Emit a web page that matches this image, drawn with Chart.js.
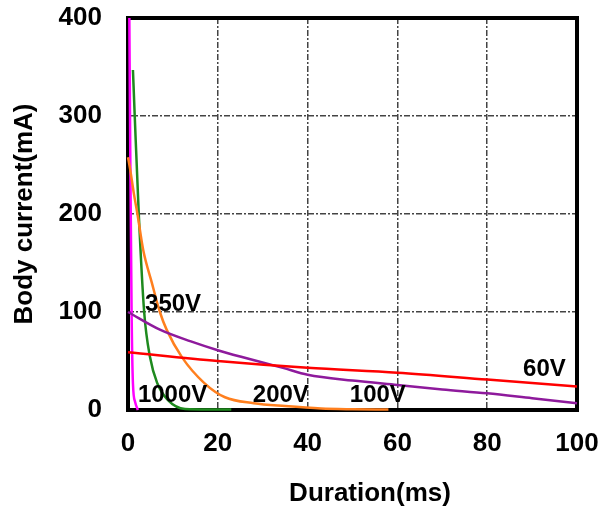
<!DOCTYPE html>
<html lang="en">
<head>
  <meta charset="UTF-8">
  <title>Body current vs duration</title>
  <script src="https://cdn.jsdelivr.net/npm/chart.js"></script>
  <style>
    body { margin: 0; background: #fff; }
    #wrap { width: 600px; height: 511px; }
  </style>
</head>
<body>
  <div id="wrap"><canvas id="chart"></canvas></div>
  <script>
    // duration (ms) / body current (mA)
    const magentaX = [0.3, 0.5, 0.8, 1.1, 1.6, 2.2];
    const magentaY = [400, 265, 100, 27, 8, 0];
    const greenX = [1.1, 1.5, 2.4, 3.6, 4.9, 6.5, 8.9, 12.7, 18, 23];
    const greenY = [347, 300, 200, 100, 54, 27.5, 10, 1, 0.5, 0.5];
    const orangeX = [0, 0.5, 1.3, 2.1, 3.4, 5.3, 7.1, 8.6, 12, 17, 21.6, 28, 35, 43, 50, 58];
    const orangeY = [258, 245, 221, 200, 163, 130, 100, 82, 54, 27.5, 13, 7, 4, 1.5, 0.8, 0.5];
    const purpleX = [0, 7.1, 14, 20, 25.4, 34.5, 40, 50, 60, 70, 80, 90, 100];
    const purpleY = [100, 82, 70, 61, 54, 43, 36, 30, 25.5, 21, 17, 12, 7];
    const redX = [0, 20, 40, 60, 80, 100];
    const redY = [59, 50, 43, 38, 31, 24];

    const xTicks = [0, 20, 40, 60, 80, 100];
    const yTicks = [0, 100, 200, 300, 400];

    const curveLabels = ['350V', '1000V', '200V', '100V', '60V'];
    const labelX = [3.8, 2.2, 27.8, 49.4, 88];
    const labelY = [108, 15, 15, 15, 41];

    function pts(xs, ys) {
      return xs.map((x, i) => ({ x: x, y: ys[i] }));
    }

    function line(data, color) {
      return {
        data: data,
        borderColor: color,
        borderWidth: 2.5,
        pointRadius: 0,
        cubicInterpolationMode: 'monotone',
        clip: 4
      };
    }

    const FONT = "'Liberation Sans', Arial, sans-serif";

    // thick black frame round the plot, under the curves
    const framePlugin = {
      id: 'frame',
      beforeDatasetsDraw(chart) {
        const a = chart.chartArea;
        const ctx = chart.ctx;
        ctx.save();
        ctx.strokeStyle = '#000';
        ctx.lineWidth = 4;
        ctx.strokeRect(a.left, a.top, a.right - a.left, a.bottom - a.top);
        ctx.restore();
      }
    };

    // voltage labels at data coordinates, plus the x axis title
    const labelPlugin = {
      id: 'curveLabels',
      afterDatasetsDraw(chart) {
        const ctx = chart.ctx;
        const xs = chart.scales.x, ys = chart.scales.y;
        ctx.save();
        ctx.fillStyle = '#000';
        ctx.font = 'bold 24px ' + FONT;
        ctx.textAlign = 'left';
        ctx.textBaseline = 'middle';
        curveLabels.forEach((t, i) => {
          ctx.fillText(t, xs.getPixelForValue(labelX[i]), ys.getPixelForValue(labelY[i]));
        });
        ctx.font = 'bold 26px ' + FONT;
        ctx.textAlign = 'center';
        ctx.fillText('Duration(ms)', 370, 494);
        ctx.restore();
      }
    };

    const gridStyle = {
      color: '#444',
      lineWidth: 1.5,
      drawTicks: false
    };

    new Chart(document.getElementById('chart'), {
      type: 'line',
      data: {
        datasets: [
          line(pts(redX, redY), '#ff0000'),
          line(pts(purpleX, purpleY), '#8e1a9c'),
          line(pts(orangeX, orangeY), '#ff7f1e'),
          line(pts(greenX, greenY), '#1e8a1e'),
          line(pts(magentaX, magentaY), '#ff00ff')
        ]
      },
      options: {
        responsive: true,
        maintainAspectRatio: false,
        animation: false,
        layout: { padding: { top: 18, right: 23, left: 0, bottom: 0 } },
        plugins: { legend: { display: false }, tooltip: { enabled: false } },
        scales: {
          x: {
            type: 'linear',
            min: 0,
            max: 100,
            afterBuildTicks: s => { s.ticks = xTicks.map(v => ({ value: v })); },
            afterFit: s => { s.height = 101; s.paddingLeft = 0; s.paddingRight = 0; },
            grid: gridStyle,
            border: { display: false, dash: [6, 2, 2, 2] },
            ticks: { color: '#000', padding: 18, font: { family: FONT, size: 26, weight: 'bold' } }
          },
          y: {
            min: 0,
            max: 400,
            afterBuildTicks: s => { s.ticks = yTicks.map(v => ({ value: v })); },
            afterFit: s => { s.width = 128; s.paddingTop = 0; s.paddingBottom = 0; },
            grid: gridStyle,
            border: { display: false, dash: [6, 2, 2, 2] },
            ticks: { color: '#000', padding: 26, font: { family: FONT, size: 26, weight: 'bold' } },
            title: {
              display: true,
              text: 'Body current(mA)',
              color: '#000',
              font: { family: FONT, size: 26, weight: 'bold' },
              padding: { top: 9, bottom: 0 }
            }
          }
        }
      },
      plugins: [framePlugin, labelPlugin]
    });
  </script>
</body>
</html>
